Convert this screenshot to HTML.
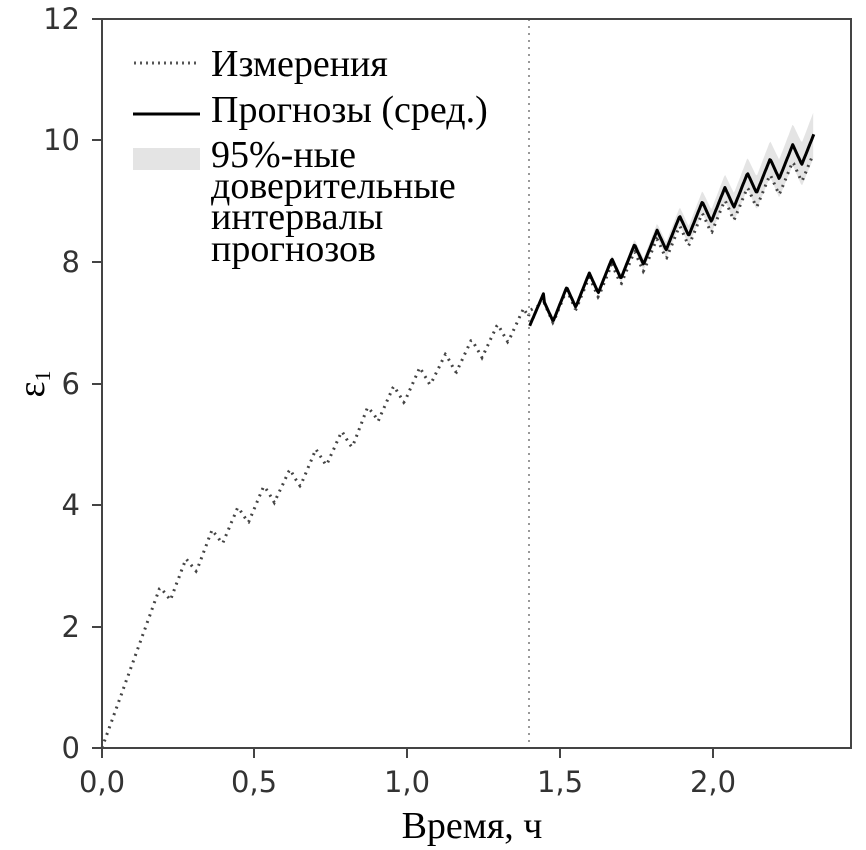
<!DOCTYPE html>
<html><head><meta charset="utf-8"><style>
html,body{margin:0;padding:0;background:#fff;}
svg{display:block;}
.tk{font-family:"DejaVu Sans",sans-serif;font-size:29px;fill:#333;}
.lg{font-family:"Liberation Serif",serif;font-size:38px;fill:#000;}
</style></head><body>
<svg id="s" width="866" height="850" viewBox="0 0 866 850" xmlns="http://www.w3.org/2000/svg">
<rect width="866" height="850" fill="#fff"/>
<g id="data"></g>
<line x1="529" y1="19" x2="529" y2="748" stroke="#999" stroke-width="2" stroke-dasharray="2,5"/>
<rect x="102" y="19" width="749" height="729" fill="none" stroke="#444" stroke-width="2"/>
<g stroke="#444" stroke-width="2">
<line x1="92" y1="748" x2="102" y2="748"/><line x1="92" y1="627" x2="102" y2="627"/><line x1="92" y1="505" x2="102" y2="505"/><line x1="92" y1="384" x2="102" y2="384"/><line x1="92" y1="262" x2="102" y2="262"/><line x1="92" y1="140" x2="102" y2="140"/><line x1="92" y1="19" x2="102" y2="19"/>
<line x1="102" y1="748" x2="102" y2="758"/><line x1="254" y1="748" x2="254" y2="758"/><line x1="407" y1="748" x2="407" y2="758"/><line x1="560" y1="748" x2="560" y2="758"/><line x1="713" y1="748" x2="713" y2="758"/>
</g>
<g class="tk" text-anchor="end">
<text x="80" y="758">0</text><text x="80" y="637">2</text><text x="80" y="515">4</text><text x="80" y="394">6</text><text x="80" y="272">8</text><text x="80" y="150">10</text><text x="80" y="29">12</text>
</g>
<g class="tk" text-anchor="middle">
<text x="102" y="792">0,0</text><text x="254" y="792">0,5</text><text x="407" y="792">1,0</text><text x="560" y="792">1,5</text><text x="713" y="792">2,0</text>
</g>
<text x="472" y="838" text-anchor="middle" class="lg">Время, ч</text>
<text x="44" y="384" text-anchor="middle" class="lg" transform="rotate(-90 44 384)">ε<tspan font-size="22" dy="6">1</tspan></text>
<line x1="134" y1="63" x2="200" y2="63" stroke="#555" stroke-width="3" stroke-dasharray="2,4"/>
<line x1="133" y1="114" x2="200" y2="114" stroke="#000" stroke-width="3"/>
<rect x="133" y="148" width="67" height="22" fill="#e4e4e4"/>
<text class="lg" x="211" y="76">Измерения</text>
<text class="lg" x="211" y="122">Прогнозы (сред.)</text>
<text class="lg" x="211" y="167">95%-ные</text>
<text class="lg" x="211" y="198">доверительные</text>
<text class="lg" x="211" y="229">интервалы</text>
<text class="lg" x="211" y="261">прогнозов</text>
</svg>
<script>
var X=function(t){return 102+305.5*t},Y=function(v){return 748-60.75*v};
function interp(tb,t){for(var i=0;i<tb.length-1;i++){if(t<=tb[i+1][0]){var a=tb[i],b=tb[i+1];return a[1]+(b[1]-a[1])*(t-a[0])/(b[0]-a[0]);}}return tb[tb.length-1][1];}
var mp=[[0,0],[0.19,2.65],[0.29,3.2],[0.38,3.7],[0.465,4.05],[0.55,4.4],[0.635,4.65],[0.72,5.0],[0.81,5.3],[0.895,5.75],[0.98,6.05],[1.065,6.35],[1.15,6.55],[1.235,6.8],[1.32,7.05],[1.4,7.3],[1.5,7.6],[2.33,9.85]];
function saw(t,t0,P,A){if(t<t0)return 0;var ph=((t-t0)/P)%1;return ph<0.4?A*ph/0.4:A*(1-(ph-0.4)/0.6);}
var fp=[[1.4,7.2],[2.33,10.15]];
var g=document.getElementById('data'),ns='http://www.w3.org/2000/svg';
function path(d,a){var p=document.createElementNS(ns,'path');p.setAttribute('d',d);for(var k in a)p.setAttribute(k,a[k]);g.appendChild(p);}
var up=[],lo=[];
for(var t=1.4;t<=2.331;t+=0.004){var v=interp(fp,t)-saw(t,1.447,0.074,0.42);var w=0.38*Math.pow((t-1.4)/0.93,1.5);if(t<1.447)v=6.95+(t-1.4)/0.047*0.55;up.push(X(t).toFixed(1)+','+Y(v+w).toFixed(1));lo.unshift(X(t).toFixed(1)+','+Y(v-w).toFixed(1));}
path('M'+up.join('L')+'L'+lo.join('L')+'Z',{fill:'#e4e4e4'});
var m=[];
for(var t=0;t<=2.33;t+=0.004){var P=t<1.4?0.085:0.074,t0=t<1.4?0.19:1.447;var v=interp(mp,t)-saw(t,t0,P,0.4);if(t>1.4)v=interp(fp,t)-saw(t,1.447,0.074,0.42)-0.3*(t-1.4)/0.93;m.push(X(t).toFixed(1)+','+Y(v).toFixed(1));}
path('M'+m.join('L'),{fill:'none',stroke:'#444','stroke-width':3,'stroke-dasharray':'2,5'});
var f=[];
for(var t=1.4;t<=2.331;t+=0.003){var v=interp(fp,t)-saw(t,1.447,0.074,0.42);if(t<1.447)v=6.95+(t-1.4)/0.047*0.55;f.push(X(t).toFixed(1)+','+Y(v).toFixed(1));}
path('M'+f.join('L'),{fill:'none',stroke:'#000','stroke-width':3,'stroke-linejoin':'round'});
</script>
</body></html>
